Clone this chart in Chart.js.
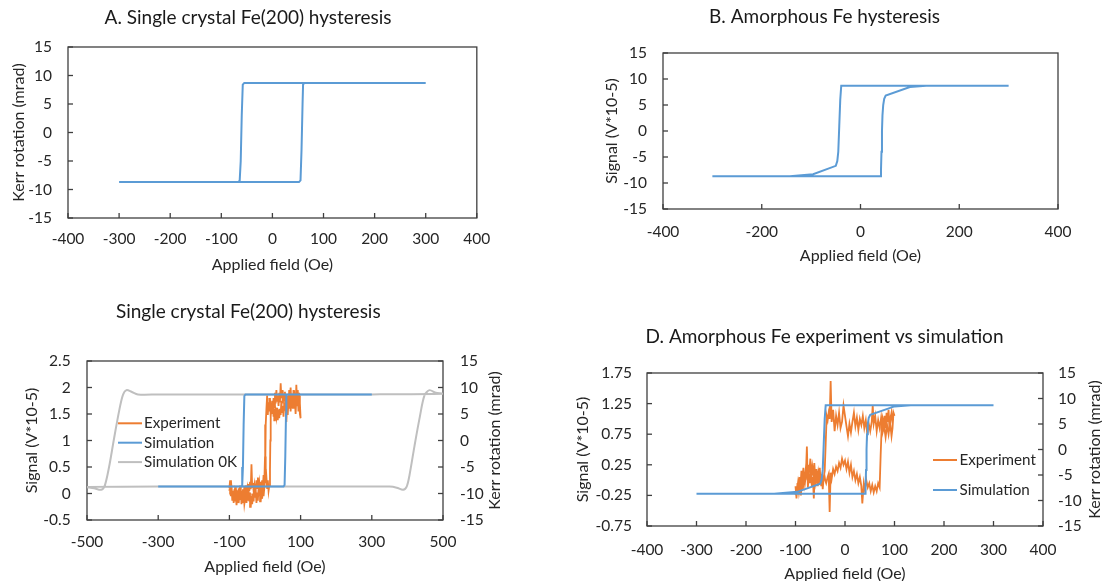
<!DOCTYPE html>
<html><head><meta charset="utf-8">
<script src="https://cdn.jsdelivr.net/npm/chart.js@4.4.1/dist/chart.umd.min.js"></script>
<style>
html,body{margin:0;padding:0;background:#fff;overflow:hidden;width:1102px;height:581px;position:relative;}
canvas{position:absolute;}
</style></head><body>
<canvas id="cA" width="502" height="280" style="left:0px;top:0px"></canvas>
<canvas id="cB" width="542" height="280" style="left:560px;top:0px"></canvas>
<canvas id="cC" width="510" height="291" style="left:0px;top:290px"></canvas>
<canvas id="cD" width="552" height="290" style="left:550px;top:300px"></canvas>
<script>
// ---------- DATA ----------
// A / C : single-crystal Fe(200) simulated loop (Kerr rotation, mrad)
const crystalSimX = [-300, 52, 55, 57, 59, 60, 62, 300, -55, -58, -60, -62, -64, -66, -300];
const crystalSimY = [-8.7, -8.7, -8.4, -3, 5, 8.4, 8.7, 8.7, 8.7, 8.4, 3, -5, -8.4, -8.7, -8.7];

// B / D : amorphous Fe simulated loop (mrad)
const amorphSimX = [-300, -150, 40.5, 41.5, 42.5, 43.5, 44.5, 46, 48, 51, 100, 133, 300,
                    -39, -41, -43, -45, -47, -50, -96, -143, -300];
const amorphSimY = [-8.7, -8.7, -8.7, -7.5, -4, 0, 3, 5, 6.2, 6.8, 8.45, 8.7, 8.7,
                    8.7, 6, 1, -4, -5.8, -6.7, -8.3, -8.7, -8.7];

// C : simulation 0K (mrad)
const crystal0KX = [-500, -300, 0, 300, 350, 370, 388, 398, 406, 420, 435, 448, 462, 480, 500,
                    300, 0, -300, -357, -375, -389, -399, -410, -425, -438, -450, -460, -480, -500];
const crystal0KY = [-8.75, -8.7, -8.7, -8.7, -8.7, -8.9, -9.3, -8.7, -6.5, -1, 4.5, 8.5, 9.5, 9.0, 8.8,
                    8.7, 8.7, 8.7, 8.7, 9.2, 9.5, 8.6, 5.5, 0, -5, -8.5, -9.3, -9.0, -8.8];

// C : experiment (Signal, V*10-5)
const crystalExpX = [
 -100,-98,-96,-94,-92,-90,-88,-86,-84,-82,
 -80,-78,-76,-74,-72,-70,-68,-66,-64,-62,
 -60,-58,-56,-54,-52,-50,-48,-46,-44,-42,
 -40,-38,-36,-34,-32,-30,-28,-26,-24,-22,
 -20,-18,-16,-14,-12,-10,-8,-6,-4,-2,
 0,2,4,6,8,10,12,14,15,16,
 17,18,20,22,24,26,28,30,32,34,
 36,38,40,42,44,46,48,50,52,54,
 56,58,60,62,64,66,68,70,72,74,
 76,78,80,82,84,86,88,90,92,94,
 96,98,100,
 98,96,94,92,90,88,86,84,82,80,
 78,76,74,72,70,68,66,64,62,60,
 58,56,54,52,50,48,46,44,42,40,
 38,36,34,32,30,28,26,24,22,20,
 18,16,14,12,10,8,6,4,2,1,
 0,-2,-4,-6,-8,-10,-12,-14,-16,-18,
 -20,-22,-24,-26,-28,-30,-32,-34,-36,-38,
 -40,-42,-44,-46,-48,-50,-52,-54,-56,-58,
 -60,-62,-64,-66,-68,-70,-72,-74,-76,-78,
 -80,-82,-84,-86,-88,-90,-92,-94,-96,-98,
 -100];
const crystalExpY = [
 0.10,0.25,-0.05,0.15,-0.12,0.05,-0.18,0.08,-0.10,0.12,
 -0.05,0.06,-0.15,0.10,-0.02,0.15,-0.08,0.05,-0.12,0.08,
 0.00,0.12,-0.05,0.15,0.02,0.10,-0.06,0.18,0.05,0.22,
 0.08,0.55,0.12,0.20,0.05,0.15,-0.02,0.12,0.25,0.10,
 0.30,0.08,0.20,0.05,0.22,0.10,0.25,0.12,0.35,0.18,
 0.70,0.20,0.30,0.10,0.25,0.05,0.15,0.45,1.00,1.45,
 1.60,1.50,1.75,1.55,1.80,1.62,1.90,1.70,1.95,1.75,
 1.85,1.65,1.90,1.72,2.08,1.80,1.95,1.70,1.88,1.75,
 1.92,1.62,1.35,1.70,1.85,1.65,1.95,1.78,2.00,1.70,
 1.88,1.60,1.95,1.72,1.90,1.55,2.05,1.75,1.95,1.60,
 1.85,1.50,1.42,
 1.70,1.90,1.55,1.85,1.65,1.80,1.50,1.75,1.95,1.60,
 1.85,1.62,1.78,1.55,1.82,1.60,1.75,1.50,1.70,1.55,
 1.80,1.58,1.72,1.45,1.65,1.52,1.75,1.48,1.60,1.42,
 1.58,1.40,1.62,1.45,1.55,1.38,1.60,1.45,1.70,1.50,
 1.62,1.45,1.80,1.55,1.72,1.50,1.85,1.60,1.30,0.80,
 0.30,0.10,-0.05,0.12,-0.10,0.05,-0.15,0.08,-0.05,0.10,
 -0.12,0.02,-0.18,0.05,-0.08,0.12,-0.15,0.00,-0.20,-0.05,
 -0.25,0.02,-0.15,0.05,-0.12,-0.02,-0.18,0.04,-0.10,-0.20,
 0.00,-0.16,-0.05,-0.20,0.02,-0.12,-0.05,-0.18,0.05,-0.10,
 -0.22,-0.05,-0.15,0.00,-0.12,0.05,-0.08,0.10,0.00,0.15,
 0.05];

// D : experiment (Signal, V*10-5)
const amorphExpX = [
 -100,-98,-96,-94,-92,-90,-88,-86,-84,-82,
 -80,-78,-76,-74,-72,-70,-68,-66,-64,-62,
 -60,-58,-56,-54,-52,-50,-48,-46,-44,-42,
 -40,-38,-35,-33,-31,-29,-27,-24,-21,-18,
 -15,-12,-9,-6,-3,0,3,6,9,12,
 15,18,21,24,27,30,33,35,38,40,
 43,46,49,52,55,58,61,64,67,70,
 72,74,76,78,80,82,84,86,88,90,
 92,94,96,98,100,
 98,96,94,91,88,85,82,79,76,73,
 70,67,64,61,58,56,54,51,48,45,
 42,39,36,33,30,27,24,21,18,15,
 12,9,6,3,0,-3,-6,-9,-12,-15,
 -18,-21,-24,-27,-29,-31,-33,-35,-37,-39,
 -41,-43,-45,-47,-49,-51,-53,-55,-57,-59,
 -61,-63,-65,-67,-69,-71,-73,-75,-77,-79,
 -81,-83,-85,-87,-89,-91,-93,-95,-97,-100];
const amorphExpY = [
 -0.10,-0.30,-0.05,-0.20,0.05,-0.10,0.15,0.02,0.20,-0.05,
 0.10,0.30,0.00,0.25,0.12,0.35,0.05,0.22,0.10,0.28,
 0.02,0.18,-0.05,0.12,0.00,0.08,-0.10,0.05,-0.02,0.10,
 0.00,-0.05,0.05,0.10,-0.52,0.12,0.02,0.18,0.10,0.22,
 0.15,0.28,0.20,0.35,0.25,0.32,0.18,0.30,0.12,0.25,
 0.05,0.15,0.00,0.10,-0.05,0.05,-0.10,-0.38,-0.05,-0.15,
 0.00,-0.12,-0.05,-0.18,-0.08,-0.20,-0.10,-0.18,-0.05,-0.12,
 0.40,0.85,1.00,0.90,1.05,0.85,1.10,0.95,1.15,0.80,
 1.00,1.10,0.95,1.08,1.05,
 1.10,0.85,0.72,0.95,0.75,0.90,0.70,0.88,0.78,1.02,
 0.85,0.98,0.80,1.05,0.92,1.22,0.95,0.80,0.92,0.75,
 0.98,0.85,1.05,0.90,1.00,0.82,1.02,0.88,1.10,0.95,
 0.78,0.92,0.72,0.88,1.05,1.22,0.95,0.85,1.10,0.90,
 1.05,0.80,1.15,0.95,1.62,1.00,1.10,0.98,1.05,0.60,
 0.15,0.05,-0.15,0.10,-0.05,0.20,0.05,-0.10,0.15,-0.02,
 0.12,-0.30,0.05,-0.10,0.18,-0.05,0.08,-0.12,0.55,0.10,
 -0.05,0.12,-0.15,0.05,-0.25,-0.08,-0.20,-0.05,-0.18,-0.25];

// Tick values
const ticksKerr = [-15, -10, -5, 0, 5, 10, 15];
const ticksField400by100 = [-400, -300, -200, -100, 0, 100, 200, 300, 400];
const ticksField400by200 = [-400, -200, 0, 200, 400];
const ticksField500 = [-500, -300, -100, 100, 300, 500];
const ticksSignalC = [-0.5, 0, 0.5, 1, 1.5, 2, 2.5];
const ticksSignalD = [-0.75, -0.25, 0.25, 0.75, 1.25, 1.75];

// ---------- STYLE ----------
const BLUE = '#5B9BD5', ORANGE = '#ED7D31', GRAY = '#BFBFBF';
const TXT = '#262626', TITLE = '#1a1a1a', FRAME = '#3f3f3f';
const FONT = 'Lato, "Open Sans", sans-serif';
const TICK_SIZE = 15.5, AXT_SIZE = 16, TITLE_SIZE = 19, LEG_SIZE = 15.2;
Chart.defaults.font.family = FONT;
Chart.defaults.color = TXT;

const pts = (xs, ys) => xs.map((x, i) => ({x: x, y: ys[i]}));

function series(label, xs, ys, color, axis, order, width, tension) {
  return {label, data: pts(xs, ys), showLine: true, borderColor: color, backgroundColor: color,
    borderWidth: width, pointRadius: 0, pointHoverRadius: 0, yAxisID: axis, order: order,
    tension: tension || 0, fill: false};
}

function axis(o) {
  const titlePad = o.pos === 'bottom' ? {bottom: o.tp} : {top: o.tp};
  return {
    type: 'linear', position: o.pos, min: o.min, max: o.max,
    afterBuildTicks: s => { s.ticks = o.ticks.map(v => ({value: v})); },
    afterFit: s => { if (o.pos === 'bottom') s.height = o.size; else s.width = o.size; },
    grid: {display: false, drawTicks: false}, border: {display: false},
    ticks: {padding: o.lp, color: TXT, font: {size: TICK_SIZE}, autoSkip: false, maxRotation: 0,
            callback: v => String(v)},
    title: {display: o.showTitle !== false, text: o.title, color: TXT, font: {size: AXT_SIZE}, padding: titlePad}
  };
}

// plot frame + inside tick marks drawn from the scales
const frameTicks = {
  id: 'frameTicks',
  beforeDatasetsDraw(chart) {
    const {ctx, chartArea: a} = chart;
    ctx.save();
    ctx.strokeStyle = FRAME; ctx.lineWidth = 1.3;
    ctx.strokeRect(a.left, a.top, a.right - a.left, a.bottom - a.top);
    const len = 5;
    Object.values(chart.scales).forEach(s => {
      s.ticks.forEach(t => {
        const p = s.getPixelForValue(t.value);
        ctx.beginPath();
        if (s.isHorizontal()) { ctx.moveTo(p, a.bottom); ctx.lineTo(p, a.bottom - len); }
        else if (s.position === 'left') { ctx.moveTo(a.left, p); ctx.lineTo(a.left + len, p); }
        else { ctx.moveTo(a.right, p); ctx.lineTo(a.right - len, p); }
        ctx.stroke();
      });
    });
    ctx.restore();
  }
};

// right-axis title, reading bottom-to-top like the reference
const sideTitle = {
  id: 'sideTitle',
  afterDraw(chart, args, opts) {
    const s = chart.scales[opts.axis];
    if (!s) return;
    const ctx = chart.ctx;
    ctx.save();
    ctx.translate(s.right - opts.inset, (s.top + s.bottom) / 2);
    ctx.rotate(-Math.PI / 2);
    ctx.textAlign = 'center'; ctx.textBaseline = 'middle';
    ctx.font = AXT_SIZE + 'px ' + FONT; ctx.fillStyle = TXT;
    ctx.fillText(s.options.title.text, 0, 0);
    ctx.restore();
  }
};

// legend drawn inside the plot area
const insideLegend = {
  id: 'insideLegend',
  afterDatasetsDraw(chart, args, opts) {
    const {ctx, chartArea: a} = chart;
    ctx.save();
    ctx.font = LEG_SIZE + 'px ' + FONT; ctx.textBaseline = 'middle'; ctx.textAlign = 'left';
    chart.data.datasets.forEach((ds, i) => {
      const y = a.top + opts.y + i * opts.dy;
      const x = a.left + opts.x;
      ctx.strokeStyle = ds.borderColor; ctx.lineWidth = 2;
      ctx.beginPath(); ctx.moveTo(x, y); ctx.lineTo(x + opts.len, y); ctx.stroke();
      ctx.fillStyle = TXT;
      ctx.fillText(ds.label, x + opts.len + opts.gap, y);
    });
    ctx.restore();
  }
};

function titleOpt(text, top, bottom) {
  return {display: true, text, color: TITLE, font: {size: TITLE_SIZE, weight: 'normal'}, padding: {top, bottom}};
}

const common = {responsive: false, animation: false, events: []};

// ---------- A ----------
new Chart(document.getElementById('cA'), {
  type: 'scatter',
  data: {datasets: [series('Simulation', crystalSimX, crystalSimY, BLUE, 'y', 1, 2)]},
  options: Object.assign({}, common, {
    layout: {padding: {left: 16, right: 22, top: 0, bottom: 0}},
    plugins: {legend: {display: false}, tooltip: {enabled: false},
      title: titleOpt('A. Single crystal Fe(200) hysteresis', 6.6, 17.6)},
    scales: {
      x: axis({pos: 'bottom', min: -400, max: 400, ticks: ticksField400by100, size: 62, lp: 11.7, tp: 5.4, title: 'Applied field (Oe)'}),
      y: axis({pos: 'left', min: -15, max: 15, ticks: ticksKerr, size: 52, lp: 16, tp: -6.6, title: 'Kerr rotation (mrad)'})
    }
  }),
  plugins: [frameTicks]
});

// ---------- B ----------
new Chart(document.getElementById('cB'), {
  type: 'scatter',
  data: {datasets: [series('Simulation', amorphSimX, amorphSimY, BLUE, 'y', 1, 2)]},
  options: Object.assign({}, common, {
    layout: {padding: {left: 31, right: 44, top: 0, bottom: 0}},
    plugins: {legend: {display: false}, tooltip: {enabled: false},
      title: titleOpt('B. Amorphous Fe hysteresis', 5.6, 24.6)},
    scales: {
      x: axis({pos: 'bottom', min: -400, max: 400, ticks: ticksField400by200, size: 71, lp: 13.4, tp: 14.4, title: 'Applied field (Oe)'}),
      y: axis({pos: 'left', min: -15, max: 15, ticks: ticksKerr, size: 72, lp: 16, tp: 11.4, title: 'Signal (V*10-5)'})
    }
  }),
  plugins: [frameTicks]
});

// ---------- C ----------
new Chart(document.getElementById('cC'), {
  type: 'scatter',
  data: {datasets: [
    series('Experiment', crystalExpX, crystalExpY, ORANGE, 'y', 2, 1.8),
    series('Simulation', crystalSimX, crystalSimY, BLUE, 'yR', 1, 2),
    series('Simulation 0K', crystal0KX, crystal0KY, GRAY, 'yR', 3, 2, 0.3)
  ]},
  options: Object.assign({}, common, {
    layout: {padding: {left: 1.6, right: 15, top: 0, bottom: 0}},
    plugins: {legend: {display: false}, tooltip: {enabled: false},
      title: titleOpt('Single crystal Fe(200) hysteresis', 10.3, 37.9),
      sideTitle: {axis: 'yR', inset: 0},
      insideLegend: {x: 31, y: 62.3, dy: 19.4, len: 24, gap: 2}},
    scales: {
      x: axis({pos: 'bottom', min: -500, max: 500, ticks: ticksField500, size: 61, lp: 13, tp: 4.7, title: 'Applied field (Oe)'}),
      y: axis({pos: 'left', min: -0.5, max: 2.5, ticks: ticksSignalC, size: 85.4, lp: 16.3, tp: 20.5, title: 'Signal (V*10-5)'}),
      yR: axis({pos: 'right', min: -15, max: 15, ticks: ticksKerr, size: 52, lp: 17, tp: 0, title: 'Kerr rotation (mrad)', showTitle: false})
    }
  }),
  plugins: [frameTicks, sideTitle, insideLegend]
});

// ---------- D ----------
new Chart(document.getElementById('cD'), {
  type: 'scatter',
  data: {datasets: [
    series('Experiment', amorphExpX, amorphExpY, ORANGE, 'y', 2, 1.8),
    series('Simulation', amorphSimX, amorphSimY, BLUE, 'yR', 1, 2)
  ]},
  options: Object.assign({}, common, {
    layout: {padding: {left: 1, right: 4, top: 0, bottom: 0}},
    plugins: {legend: {display: false}, tooltip: {enabled: false},
      title: titleOpt('D. Amorphous Fe experiment vs simulation', 25.9, 24.3),
      sideTitle: {axis: 'yR', inset: 3},
      insideLegend: {x: 286, y: 87, dy: 30, len: 24, gap: 2.5}},
    scales: {
      x: axis({pos: 'bottom', min: -400, max: 400, ticks: ticksField400by100, size: 64, lp: 14.7, tp: 6.4, title: 'Applied field (Oe)'}),
      y: axis({pos: 'left', min: -0.75, max: 1.75, ticks: ticksSignalD, size: 96, lp: 15, tp: 22.4, title: 'Signal (V*10-5)'}),
      yR: axis({pos: 'right', min: -15, max: 15, ticks: ticksKerr, size: 55, lp: 15, tp: 0, title: 'Kerr rotation (mrad)', showTitle: false})
    }
  }),
  plugins: [frameTicks, sideTitle, insideLegend]
});
</script>
</body></html>
